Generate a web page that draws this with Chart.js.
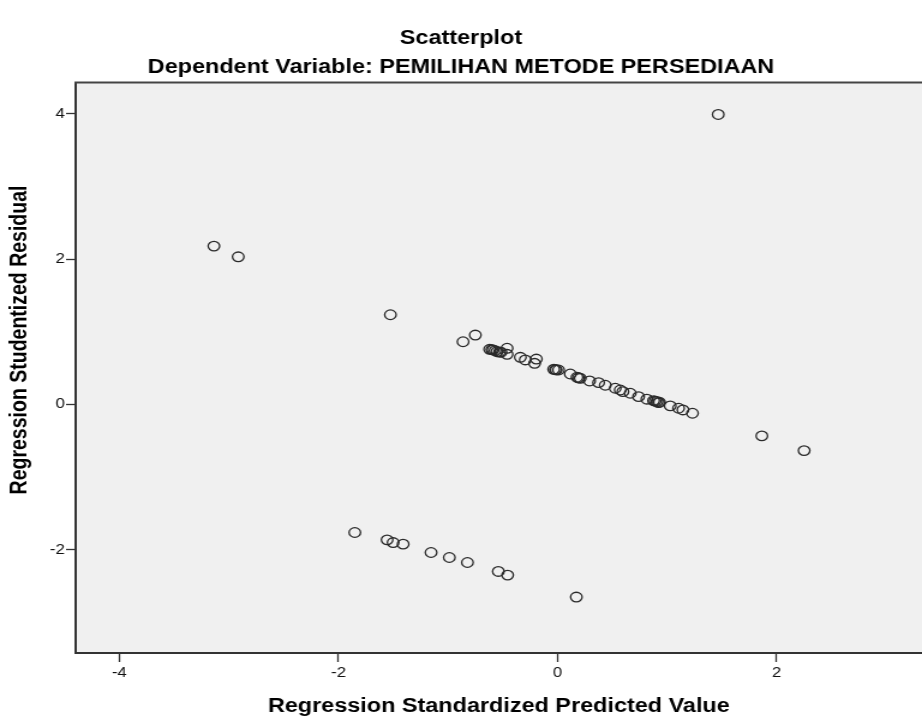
<!DOCTYPE html>
<html>
<head>
<meta charset="utf-8">
<script src="https://cdn.jsdelivr.net/npm/chart.js@4"></script>
<style>
html,body{margin:0;padding:0;background:#fff;overflow:hidden;}
/* the reference picture is a horizontally stretched SPSS chart: draw at 768 wide, show at 922 */
#c{display:block;width:922px;height:726px;}
</style>
</head>
<body>
<canvas id="c" width="768" height="726" style="width:922px;height:726px;"></canvas>
<script>
const chartTitle = 'Scatterplot';
const chartSubtitle = 'Dependent Variable: PEMILIHAN METODE PERSEDIAAN';
const xAxisTitle = 'Regression Standardized Predicted Value';
const yAxisTitle = 'Regression Studentized Residual';
const xTickValues = [-4, -2, 0, 2];
const yTickValues = [-2, 0, 2, 4];

// Regression Standardized Predicted Value
const predictedValues = [
  -3.137, -2.915, -1.526, 1.466,
  -0.863, -0.751, -0.620, -0.600, -0.589, -0.570, -0.553, -0.530, -0.516, -0.461, -0.461,
  -0.340, -0.295, -0.210, -0.194, -0.036, -0.020, -0.012, 0.009,
  0.116, 0.177, 0.190, 0.207, 0.292, 0.374, 0.435, 0.526, 0.572, 0.596, 0.663, 0.739,
  0.815, 0.876, 0.890, 0.907, 0.921, 0.930, 1.028, 1.104, 1.144, 1.231,
  1.864, 2.250,
  -1.851, -1.556, -1.501, -1.410, -1.155, -0.988, -0.823, -0.541, -0.456, 0.171
];
// Regression Studentized Residual
const residualValues = [
  2.179, 2.032, 1.234, 3.990,
  0.863, 0.955, 0.759, 0.755, 0.749, 0.740, 0.726, 0.720, 0.718, 0.773, 0.690,
  0.649, 0.612, 0.566, 0.625, 0.484, 0.480, 0.474, 0.474,
  0.419, 0.374, 0.367, 0.360, 0.323, 0.300, 0.264, 0.223, 0.199, 0.176, 0.154, 0.107,
  0.072, 0.052, 0.045, 0.038, 0.025, 0.030, -0.020, -0.052, -0.076, -0.121,
  -0.433, -0.635,
  -1.762, -1.863, -1.900, -1.922, -2.037, -2.106, -2.175, -2.298, -2.348, -2.650
];

const points = predictedValues.map((x, i) => ({ x: x, y: residualValues[i] }));

const FONT = '"Liberation Sans", Arial, Helvetica, sans-serif';
const TITLE_SIZE = 19.5;

const plotDecor = {
  id: 'plotDecor',
  beforeDraw(chart) {
    const { ctx, chartArea: a } = chart;
    ctx.save();
    ctx.fillStyle = '#f0f0f0';
    ctx.fillRect(a.left, a.top, a.right - a.left, a.bottom - a.top);
    ctx.restore();
  },
  afterDraw(chart) {
    const { ctx, chartArea: a } = chart;
    ctx.save();
    ctx.strokeStyle = '#444';
    ctx.lineWidth = 2;
    ctx.beginPath();
    ctx.moveTo(a.left - 1, a.top);
    ctx.lineTo(a.right + 2, a.top);
    ctx.stroke();
    ctx.translate(16.7, 340);
    ctx.rotate(-Math.PI / 2);
    ctx.fillStyle = '#000';
    ctx.font = 'bold ' + TITLE_SIZE + 'px ' + FONT;
    ctx.textAlign = 'center';
    ctx.textBaseline = 'middle';
    ctx.fillText(yAxisTitle, 0, 0);
    ctx.restore();
  }
};

new Chart(document.getElementById('c'), {
  type: 'scatter',
  data: {
    datasets: [{
      data: points,
      showLine: false,
      pointRadius: 4.8,
      pointHoverRadius: 4.8,
      pointBorderWidth: 1.3,
      pointBorderColor: '#2a2a2a',
      pointBackgroundColor: 'rgba(0,0,0,0)'
    }]
  },
  options: {
    responsive: false,
    animation: false,
    devicePixelRatio: 1,
    layout: { autoPadding: false, padding: { left: 0, right: 0, top: 0, bottom: 0 } },
    plugins: {
      legend: { display: false },
      tooltip: { enabled: false },
      title: {
        display: true, text: chartTitle, color: '#000',
        font: { family: FONT, size: TITLE_SIZE, weight: 'bold', lineHeight: 1.2 },
        padding: { top: 27, bottom: 0 }
      },
      subtitle: {
        display: true, text: chartSubtitle, color: '#000',
        font: { family: FONT, size: TITLE_SIZE, weight: 'bold', lineHeight: 1.2 },
        padding: { top: 5.5, bottom: 3.2 }
      }
    },
    scales: {
      x: {
        type: 'linear',
        min: -4.399, max: 3.326,
        afterFit(s) { s.height = 73; },
        afterBuildTicks(s) { s.ticks = xTickValues.map(v => ({ value: v })); },
        grid: { display: true, drawOnChartArea: false, drawTicks: true, tickLength: 9, tickColor: '#333', tickWidth: 1.3 },
        border: { display: true, color: '#333', width: 2 },
        ticks: { color: '#111', font: { family: FONT, size: 14 }, padding: 3, maxRotation: 0 },
        title: {
          display: true, text: xAxisTitle, color: '#000',
          font: { family: FONT, size: TITLE_SIZE, weight: 'bold', lineHeight: 1.2 },
          padding: { top: 2, bottom: 7.3 }
        }
      },
      y: {
        type: 'linear',
        min: -3.42, max: 4.43,
        afterFit(s) { s.width = 63; },
        afterBuildTicks(s) { s.ticks = yTickValues.map(v => ({ value: v })); },
        grid: { display: true, drawOnChartArea: false, drawTicks: true, tickLength: 8, tickColor: '#333', tickWidth: 1.3 },
        border: { display: true, color: '#333', width: 2 },
        ticks: { color: '#111', font: { family: FONT, size: 14 }, padding: 1 },
        title: { display: false }
      }
    }
  },
  plugins: [plotDecor]
});
</script>
</body>
</html>
